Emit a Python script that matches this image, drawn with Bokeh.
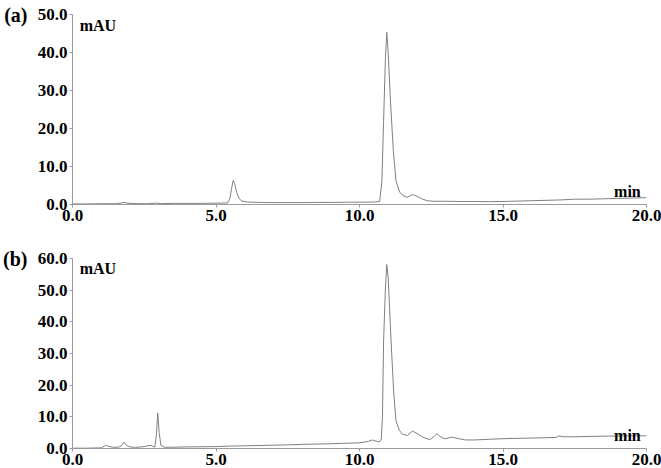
from bokeh.plotting import figure
from bokeh.models import (Range1d, FixedTicker, PrintfTickFormatter, Label, ColumnDataSource,
                          LinearAxis, CustomJSTickFormatter)
from bokeh.layouts import column
from bokeh.embed import file_html
from bokeh.resources import INLINE

# ---- data: chromatogram (a) ----
time_a = [0.0, 0.5, 1.0, 1.5, 1.7, 1.8, 1.9, 2.1, 2.6, 2.9, 3.1, 3.6, 4.0, 4.5, 5.0, 5.4,
          5.48, 5.55, 5.6, 5.65, 5.72, 5.8, 5.9, 6.1, 6.5, 7.0, 7.5, 8.0, 8.5, 9.0, 9.5,
          10.0, 10.5, 10.7, 10.78, 10.84, 10.9, 10.95, 11.0, 11.08, 11.18, 11.27, 11.4,
          11.55, 11.67, 11.84, 11.95, 12.08, 12.2, 12.36, 12.6, 13.0, 13.5, 14.0, 14.5,
          15.0, 15.5, 16.0, 16.5, 17.0, 17.5, 18.0, 18.5, 19.0, 19.5, 20.0]
mau_a = [0.15, 0.15, 0.2, 0.2, 0.4, 0.55, 0.35, 0.25, 0.2, 0.35, 0.25, 0.3, 0.3, 0.3, 0.35, 0.4,
         1.5, 4.5, 6.4, 5.5, 3.2, 1.6, 0.9, 0.65, 0.55, 0.5, 0.5, 0.5, 0.55, 0.55, 0.6,
         0.6, 0.65, 0.8, 6.0, 22.0, 38.0, 45.3, 40.0, 27.0, 14.0, 6.3, 3.2,
         2.2, 1.9, 2.6, 2.3, 1.9, 1.4, 1.0, 0.85, 0.85, 0.8, 0.8, 0.75,
         0.8, 0.9, 1.0, 1.1, 1.2, 1.4, 1.4, 1.5, 1.6, 1.7, 1.8]

# ---- data: chromatogram (b) ----
time_b = [0.0, 0.5, 1.0, 1.1, 1.15, 1.25, 1.4, 1.6, 1.7, 1.8, 1.88, 2.0, 2.2, 2.5, 2.7, 2.8,
          2.87, 2.92, 2.97, 3.02, 3.08, 3.2, 3.5, 4.0, 4.5, 5.0, 5.5, 6.0, 6.5, 7.0, 7.5,
          8.0, 8.5, 9.0, 9.5, 10.0, 10.3, 10.45, 10.58, 10.7, 10.76, 10.8, 10.84, 10.9,
          10.95, 11.0, 11.1, 11.19, 11.27, 11.39, 11.5, 11.67, 11.84, 12.0, 12.2, 12.45,
          12.6, 12.7, 12.8, 12.95, 13.05, 13.2, 13.4, 13.7, 14.0, 14.5, 15.0, 15.5, 16.0,
          16.5, 16.85, 16.95, 17.1, 17.5, 18.0, 18.5, 19.0, 19.5, 20.0]
mau_b = [0.1, 0.1, 0.2, 0.7, 1.0, 0.7, 0.4, 0.4, 0.8, 2.0, 1.0, 0.5, 0.35, 0.6, 1.0, 0.7,
         0.4, 4.0, 11.2, 5.0, 1.0, 0.4, 0.4, 0.5, 0.55, 0.6, 0.75, 0.85, 0.95, 1.05, 1.15,
         1.3, 1.4, 1.5, 1.65, 1.8, 2.2, 2.7, 2.3, 2.1, 3.0, 10.0, 34.0, 50.0,
         58.1, 54.0, 34.0, 18.0, 8.8, 5.7, 4.5, 4.1, 5.5, 4.8, 3.6, 2.8,
         3.8, 4.7, 3.8, 3.1, 3.2, 3.6, 3.2, 2.7, 2.7, 2.9, 3.1, 3.2, 3.3,
         3.4, 3.5, 4.0, 3.7, 3.7, 3.8, 3.9, 3.95, 4.0, 4.0]

x_ticks = [0, 5, 10, 15, 20]
y_ticks_a = [0, 10, 20, 30, 40, 50]
y_ticks_b = [0, 10, 20, 30, 40, 50, 60]
panel_tags = ["(a)", "(b)"]

FONT = "Liberation Serif"
AXIS_COLOR = "#9a9a9a"
TRACE_COLOR = "#808080"


def make_panel(times, values, y_max, y_ticks, tag, mau_y, min_y, b_top, b_bottom):
    p = figure(output_backend="svg", toolbar_location=None,
               frame_width=574, frame_height=190,
               min_border_left=72, min_border_right=15,
               min_border_top=b_top, min_border_bottom=b_bottom,
               x_range=Range1d(0, 20), y_range=Range1d(0, y_max))
    p.outline_line_color = None
    p.grid.visible = False
    p.background_fill_color = "white"
    p.border_fill_color = "white"
    src = ColumnDataSource(dict(t=times, v=values))
    p.line("t", "v", source=src, line_color=TRACE_COLOR, line_width=1)

    for ax in (p.xaxis[0], p.yaxis[0]):
        ax.axis_line_color = AXIS_COLOR
        ax.major_tick_line_color = AXIS_COLOR
        ax.minor_tick_line_color = None
        ax.major_tick_out = 3
        ax.major_tick_in = 0
        ax.major_label_standoff = 2
        ax.major_label_text_font = FONT
        ax.major_label_text_font_style = "bold"
        ax.major_label_text_font_size = "17px"
        ax.major_label_text_color = "black"
        ax.formatter = PrintfTickFormatter(format="%.1f")
    p.xaxis[0].ticker = FixedTicker(ticks=x_ticks)
    p.yaxis[0].ticker = FixedTicker(ticks=y_ticks)

    # panel tag drawn as an outer left axis with a single tick at the top
    tag_axis = LinearAxis(ticker=FixedTicker(ticks=[y_max]),
                          formatter=CustomJSTickFormatter(code="return %r;" % tag),
                          axis_line_color=None, major_tick_line_color=None,
                          minor_tick_line_color=None,
                          major_tick_out=0, major_tick_in=0,
                          major_label_standoff=7,
                          major_label_text_font=FONT,
                          major_label_text_font_style="bold",
                          major_label_text_font_size="20px",
                          major_label_text_color="black")
    p.add_layout(tag_axis, "left")

    p.add_layout(Label(x=0.25, y=mau_y, text="mAU",
                       text_font=FONT, text_font_style="bold", text_font_size="16px",
                       text_align="left", text_baseline="middle", text_color="black"))
    p.add_layout(Label(x=19.8, y=min_y, text="min",
                       text_font=FONT, text_font_style="bold", text_font_size="16px",
                       text_align="right", text_baseline="middle", text_color="black"))
    return p


pa = make_panel(time_a, mau_a, 50, y_ticks_a, panel_tags[0], 47.1, 3.4, 14, 34)
pb = make_panel(time_b, mau_b, 60, y_ticks_b, panel_tags[1], 56.8, 4.1, 20, 20)

layout = column(pa, pb, spacing=0)
open("out.html", "w").write(file_html(layout, INLINE))
